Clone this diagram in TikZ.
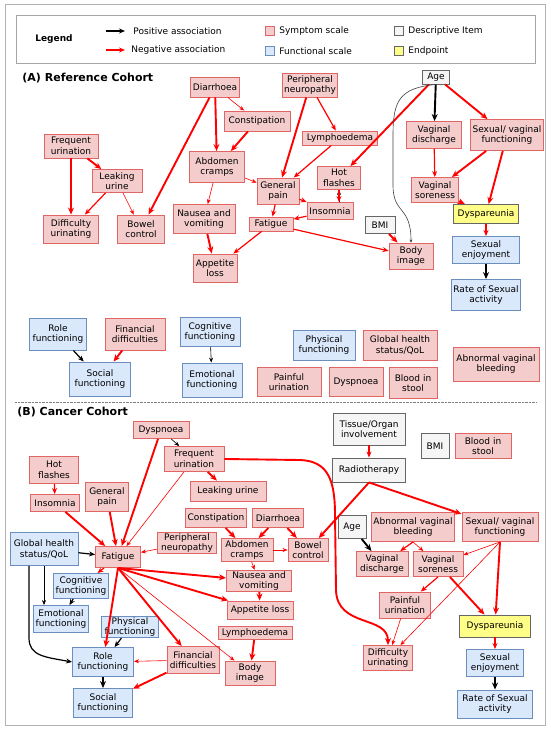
\documentclass[tikz,border=0pt]{standalone}
\usepackage{fontspec}
\setmainfont{DejaVu Sans}
\usepackage{tikz}
\usetikzlibrary{arrows.meta}

\definecolor{symfill}{HTML}{F4CCCC}
\definecolor{symline}{HTML}{E06666}
\definecolor{funfill}{HTML}{DAE8FC}
\definecolor{funline}{HTML}{6C8EBF}
\definecolor{desfill}{HTML}{F5F5F5}
\definecolor{desline}{HTML}{666666}
\definecolor{endfill}{HTML}{FFFF88}

\begin{document}
\begin{tikzpicture}[x=1pt,y=-1pt,
  font=\fontsize{9}{10.6}\selectfont,
  every node/.style={align=center, inner xsep=2pt, inner ysep=1pt, line width=0.9pt},
  sym/.style={draw=symline, fill=symfill},
  fun/.style={draw=funline, fill=funfill},
  des/.style={draw=desline, fill=desfill},
  endp/.style={draw=desline, fill=endfill},
  sz/.style 2 args={minimum width=#1pt, minimum height=#2pt},
  negedge/.style={red}, posedge/.style={black},
  w1/.style={line width=0.6pt, -{Stealth[length=5pt,width=4pt]}},
  w2/.style={line width=1.2pt, -{Stealth[length=6pt,width=5pt]}},
  w3/.style={line width=1.9pt, -{Stealth[length=7pt,width=6pt]}}]
  \useasboundingbox (0,0) rectangle (550,730);
  \draw[gray!60, line width=1pt] (5,5) rectangle (545,725);

  % legend
  \draw[gray!70, line width=0.8pt] (16,15) rectangle (535,63);
  \node[font=\bfseries\fontsize{9}{11}\selectfont] (leg) at (54,39) {Legend};
  \coordinate (lp1) at (106,31); \coordinate (lp2) at (125,31);
  \coordinate (ln1) at (106,50); \coordinate (ln2) at (125,50);
  \path[posedge] (lp1) edge[w2] (lp2);
  \path[negedge] (ln1) edge[w2] (ln2);
  \node[anchor=west] (lpos) at (131,31) {Positive association};
  \node[anchor=west] (lneg) at (129,50) {Negative association};
  \node[sym, minimum size=9pt, inner sep=0pt] (lsym) at (269.5,30.5) {};
  \node[fun, minimum size=9pt, inner sep=0pt] (lfun) at (269.5,50.5) {};
  \node[des, minimum size=9pt, inner sep=0pt] (ldes) at (398.5,30.5) {};
  \node[endp, minimum size=9pt, inner sep=0pt] (lend) at (398.5,50.5) {};
  \node[anchor=west] (tsym) at (277,31) {Symptom scale};
  \node[anchor=west] (tfun) at (277,51) {Functional scale};
  \node[anchor=west] (tdes) at (406,31) {Descriptive Item};
  \node[anchor=west] (tend) at (406,51) {Endpoint};

  % (A) reference cohort
  \node[anchor=west, font=\bfseries\fontsize{11}{13}\selectfont] (titA) at (20,78) {(A) Reference Cohort};
  \node[sym, sz={48}{20}] (a-diar) at (215,87) {Diarrhoea};
  \node[sym, sz={66}{20}] (a-const) at (257,121) {Constipation};
  \node[sym, sz={54}{24}] (a-freq) at (71,146) {Frequent\\urination};
  \node[sym, sz={50}{23}] (a-leak) at (117,181) {Leaking\\urine};
  \node[sym, sz={55}{28}] (a-diff) at (71,229) {Difficulty\\urinating};
  \node[sym, sz={47}{28}] (a-bowel) at (141,229) {Bowel\\control};
  \node[sym, sz={55}{31}] (a-abd) at (217,167) {Abdomen\\cramps};
  \node[sym, sz={62}{29}] (a-naus) at (204,219) {Nausea and\\vomiting};
  \node[sym, sz={44}{28}] (a-app) at (215,268) {Appetite\\loss};
  \node[sym, sz={42}{26}] (a-gen) at (278,191) {General\\pain};
  \node[sym, sz={44}{14}] (a-fat) at (271,224) {Fatigue};
  \node[sym, sz={46}{17}] (a-inso) at (330,211) {Insomnia};
  \node[sym, sz={43}{23}] (a-hot) at (339,178) {Hot\\flashes};
  \node[des, sz={30}{17}] (a-bmi) at (380,225) {BMI};
  \node[sym, sz={44}{26}] (a-body) at (411,256) {Body\\image};
  \node[sym, sz={54}{24}] (a-pn) at (310,85) {Peripheral\\neuropathy};
  \node[sym, sz={75}{14}] (a-lymph) at (340,138) {Lymphoedema};
  \node[des, sz={27}{14}] (a-age) at (436,77) {Age};
  \node[sym, sz={55}{27}] (a-vdis) at (434,135) {Vaginal\\discharge};
  \node[sym, sz={73}{31}] (a-sex) at (507,135) {Sexual/ vaginal\\functioning};
  \node[sym, sz={47}{25}] (a-vsor) at (435,190) {Vaginal\\soreness};
  \node[endp, sz={65}{19}] (a-dys) at (486,214) {Dyspareunia};
  \node[fun, sz={67}{27}] (a-enj) at (486,250) {Sexual\\enjoyment};
  \node[fun, sz={69}{31}] (a-rate) at (486,295) {Rate of Sexual\\activity};
  \node[fun, sz={57}{32}] (a-role) at (58,334) {Role\\functioning};
  \node[sym, sz={60}{32}] (a-fin) at (135,334) {Financial\\difficulties};
  \node[fun, sz={61}{34}] (a-soc) at (100,379) {Social\\functioning};
  \node[fun, sz={60}{29}] (a-cog) at (210,332) {Cognitive\\functioning};
  \node[fun, sz={60}{34}] (a-emo) at (212,380) {Emotional\\functioning};
  \node[fun, sz={62}{30}] (a-phys) at (324,345) {Physical\\functioning};
  \node[sym, sz={74}{30}] (a-glob) at (400,345) {Global health\\status/QoL};
  \node[sym, sz={64}{29}] (a-pain) at (289,382) {Painful\\urination};
  \node[sym, sz={54}{29}] (a-dysn) at (356,382) {Dyspnoea};
  \node[sym, sz={48}{31}] (a-blood) at (413,383) {Blood in\\stool};
  \node[sym, sz={86}{34}] (a-avb) at (496,364) {Abnormal vaginal\\bleeding};

  \path[posedge] (a-hot.south |- a-inso.north) edge[w1] (a-hot.south);
  \path[negedge]
    (a-diar) edge[w1] (a-const)
    (a-diar) edge[w3] (a-abd)
    (a-diar) edge[w3] (a-bowel)
    (a-const) edge[w3] (a-abd)
    (a-freq) edge[w3] (a-leak)
    (a-freq) edge[w3] (a-diff)
    (a-leak) edge[w2] (a-diff)
    (a-leak) edge[w1] (a-bowel)
    (a-abd) edge[w1] (a-naus)
    (a-abd) edge[w1] (a-gen)
    (a-naus) edge[w3] (a-app)
    (a-fat) edge[w2] (a-app)
    (a-pn) edge[w3] (a-gen)
    (a-pn) edge[w2] (a-lymph)
    (a-lymph) edge[w2] (a-gen)
    (a-gen) edge[w2] (a-fat)
    (a-gen) edge[w2] (a-inso)
    (a-inso) edge[w2] (a-fat)
    (a-hot.south) edge[w2] (a-hot.south |- a-inso.north)
    (a-age) edge[w3] (a-hot)
    (a-age) edge[w3] (a-sex)
    (a-vdis) edge[w2] (a-vsor)
    (a-sex) edge[w3] (a-vsor)
    (a-sex) edge[w3] (a-dys)
    (a-vsor) edge[w3] (a-dys)
    (a-dys) edge[w2] (a-enj)
    (a-bmi) edge[w3] (a-body)
    (a-fat) edge[w2] (a-body)
    (a-fin) edge[w3] (a-soc);
  \path[posedge]
    (a-age) edge[w3] (a-vdis)
    (a-enj) edge[w3] (a-rate)
    (a-role) edge[w2] (a-soc)
    (a-cog) edge[w1] (a-emo);
  \draw[black!75, line width=0.6pt, -{Stealth[length=3pt,width=3pt]}] (a-age.south)
    .. controls (400,88) and (393,100) .. (393,135) -- (393,185)
    .. controls (393,215) and (411,205) .. (a-body.north);

  \draw[gray, densely dotted] (15,402) -- (537,402);

  % (B) cancer cohort
  \node[anchor=west, font=\bfseries\fontsize{11}{13}\selectfont] (titB) at (15,412) {(B) Cancer Cohort};
  \node[sym, sz={56}{17}] (b-dysp) at (161,430) {Dyspnoea};
  \node[sym, sz={60}{25}] (b-freq) at (194,459) {Frequent\\urination};
  \node[sym, sz={49}{27}] (b-hot) at (54,470) {Hot\\flashes};
  \node[sym, sz={49}{17}] (b-inso) at (55,503) {Insomnia};
  \node[sym, sz={43}{29}] (b-gen) at (107,497) {General\\pain};
  \node[sym, sz={76}{20}] (b-leak) at (228,491) {Leaking urine};
  \node[sym, sz={61}{19}] (b-const) at (216,518) {Constipation};
  \node[sym, sz={51}{19}] (b-diar) at (278,518) {Diarrhoea};
  \node[fun, sz={68}{33}] (b-glob) at (44,549) {Global health\\status/QoL};
  \node[sym, sz={45}{21}] (b-fat) at (118,557) {Fatigue};
  \node[sym, sz={59}{21}] (b-pn) at (187,543) {Peripheral\\neuropathy};
  \node[sym, sz={52}{23}] (b-abd) at (247,550) {Abdomen\\cramps};
  \node[sym, sz={40}{23}] (b-bowel) at (308,550) {Bowel\\control};
  \node[sym, sz={65}{21}] (b-naus) at (259,581) {Nausea and\\vomiting};
  \node[sym, sz={66}{18}] (b-app) at (260,610) {Appetite loss};
  \node[sym, sz={74}{13}] (b-lymph) at (255,633) {Lymphoedema};
  \node[sym, sz={50}{24}] (b-body) at (250,673) {Body\\image};
  \node[sym, sz={52}{27}] (b-fin) at (193,660) {Financial\\difficulties};
  \node[fun, sz={54}{25}] (b-cog) at (81,586) {Cognitive\\functioning};
  \node[fun, sz={53}{27}] (b-emo) at (61,619) {Emotional\\functioning};
  \node[fun, sz={57}{21}] (b-phys) at (130,627) {Physical\\functioning};
  \node[fun, sz={61}{29}] (b-role) at (103,662) {Role\\functioning};
  \node[fun, sz={59}{29}] (b-soc) at (103,703) {Social\\functioning};
  \node[des, sz={72}{32}] (b-tiss) at (369,429) {Tissue/Organ\\involvement};
  \node[des, sz={73}{24}] (b-radio) at (369,470) {Radiotherapy};
  \node[des, sz={28}{25}] (b-bmi) at (435,446) {BMI};
  \node[sym, sz={56}{25}] (b-blood) at (483,446) {Blood in\\stool};
  \node[des, sz={28}{23}] (b-age) at (352,527) {Age};
  \node[sym, sz={82}{29}] (b-avb) at (413,527) {Abnormal vaginal\\bleeding};
  \node[sym, sz={76}{29}] (b-sex) at (500,527) {Sexual/ vaginal\\functioning};
  \node[sym, sz={52}{25}] (b-vdis) at (382,564) {Vaginal\\discharge};
  \node[sym, sz={50}{25}] (b-vsor) at (438,564) {Vaginal\\soreness};
  \node[sym, sz={51}{26}] (b-pain) at (405,605) {Painful\\urination};
  \node[sym, sz={49}{25}] (b-diff) at (388,658) {Difficulty\\urinating};
  \node[endp, sz={71}{22}] (b-dys) at (495,626) {Dyspareunia};
  \node[fun, sz={57}{27}] (b-enj) at (495,663) {Sexual\\enjoyment};
  \node[fun, sz={75}{28}] (b-rate) at (495,704) {Rate of Sexual\\activity};

  \path[negedge]
    (b-dysp) edge[w3] (b-fat)
    (b-hot) edge[w2] (b-inso)
    (b-inso) edge[w3] (b-fat)
    (b-gen) edge[w3] (b-fat)
    (b-freq) edge[w3] (b-leak)
    (b-freq) edge[w1] (b-fat)
    (b-pn) edge[w1] (b-fat)
    (b-fat) edge[w2] (b-cog)
    (b-fat.south) edge[w3] (b-role)
    (b-fat.south) edge[w3] (b-naus)
    (b-fat.south) edge[w3] (b-app)
    (b-fat.south) edge[w3] (b-fin)
    (b-fat.south) edge[w1] (b-body)
    (b-fin) edge[w1] (b-role)
    (b-fin) edge[w3] (b-soc)
    (b-lymph) edge[w3] (b-body)
    (b-const) edge[w3] (b-abd)
    (b-diar) edge[w3] (b-abd)
    (b-diar) edge[w3] (b-bowel)
    (b-abd) edge[w1] (b-bowel)
    (b-abd) edge[w1] (b-naus)
    (b-naus) edge[w3] (b-app)
    (b-tiss) edge[w2] (b-radio)
    (b-radio.south) edge[w3] (b-bowel)
    (b-radio.south) edge[w3] (b-sex)
    (b-avb.south) edge[w2] (b-vdis)
    (b-avb.south) edge[w1] (b-vsor)
    (b-sex.south) edge[w1] (b-vsor)
    (b-sex.south) edge[w3] (b-dys)
    (b-sex.south) edge[w1] (b-diff)
    (b-vsor.south) edge[w2] (b-pain)
    (b-vsor) edge[w3] (b-dys)
    (b-pain) edge[w1] (b-diff)
    (b-dys) edge[w2] (b-enj);
  \draw[negedge, w3] (b-freq.east) -- (300,460)
    .. controls (328,461) and (335,480) .. (335,515) -- (336,590)
    .. controls (337,628) and (388,615) .. (b-diff.north);
  \path[posedge]
    (b-dysp) edge[w1] (b-freq)
    (b-glob) edge[w2] (b-fat)
    (b-glob.south) edge[w1] (b-glob.south |- b-emo.north)
    (b-cog) edge[w2] (b-emo)
    (b-phys) edge[w2] (b-role)
    (b-role) edge[w3] (b-soc)
    (b-age) edge[w3] (b-vdis)
    (b-enj) edge[w3] (b-rate);
  \draw[posedge, w2] ([xshift=-15pt]b-glob.south) -- (29,638)
    .. controls (29,656) and (45,657) .. (b-role.west);
\end{tikzpicture}
\end{document}
